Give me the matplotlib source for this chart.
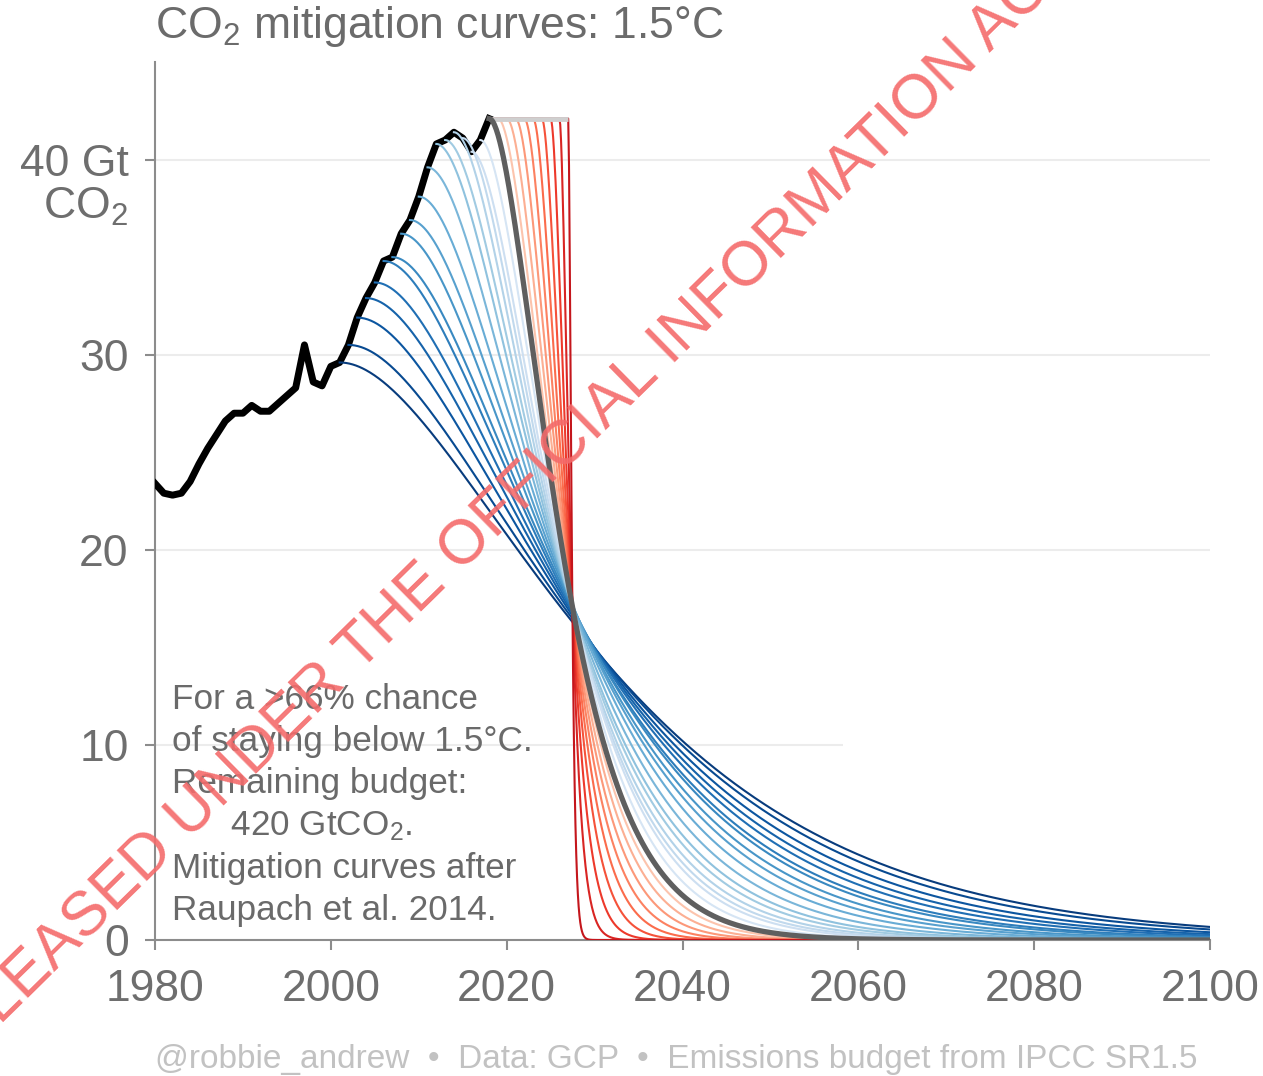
import numpy as np
import matplotlib
matplotlib.use('Agg')
import matplotlib.pyplot as plt
from matplotlib.patches import Rectangle

plt.rcParams['font.family'] = ['Liberation Sans', 'DejaVu Sans']
plt.rcParams['mathtext.fontset'] = 'custom'
plt.rcParams['mathtext.rm'] = 'Liberation Sans'
plt.rcParams['mathtext.it'] = 'Liberation Sans'

# Historical total CO2 emissions, Gt CO2 per year (GCP)
hist_years = list(range(1980, 2019))
hist_emissions = [23.4, 22.9, 22.8, 22.9, 23.5, 24.4, 25.2, 25.9, 26.6, 27.0,
                  27.0, 27.4, 27.1, 27.1, 27.5, 27.9, 28.3, 30.5, 28.6, 28.4,
                  29.4, 29.6, 30.5, 31.9, 32.9, 33.7, 34.8, 35.0, 36.2, 36.9,
                  38.1, 39.6, 40.8, 41.0, 41.4, 41.1, 40.4, 41.0, 42.1]

# Remaining budget from the start of 2018 (IPCC SR1.5, >66% for 1.5C)
budget_2018 = 420.0

# Start years of mitigation: "what if we had started in..." and delayed starts
early_starts = list(range(2001, 2018))
delayed_starts = list(range(2019, 2028))
end_year = 2100

footer = "@robbie_andrew  \u2022  Data: GCP  \u2022  Emissions budget from IPCC SR1.5"
note_lines = ["For a >66% chance", "of staying below 1.5\u00b0C.", "Remaining budget:",
              "      420 GtCO$_2$.", "Mitigation curves after", "Raupach et al. 2014."]


def mitigation_curve(f0, budget, t0, t1=end_year, n=800):
    # Raupach et al. (2014) curve with zero initial growth:
    # f(t) = f0 (1 + m t) exp(-m t); annual sum ~ 2 f0 / m + f0 / 2 = budget
    m = 2.0 * f0 / (budget - f0 / 2.0)
    t = np.linspace(t0, t1, n)
    dt = t - t0
    return t, f0 * (1 + m * dt) * np.exp(-m * dt)


hist = dict(zip(hist_years, hist_emissions))
f_now = hist[2018]

fig = plt.figure(figsize=(12.63, 10.76), dpi=100)
ax = fig.add_axes([155 / 1263, 136 / 1076, 1055 / 1263, 878 / 1076])

# blue: mitigation had it started earlier
blues = plt.get_cmap('Blues')
for i, s in enumerate(early_starts):
    spent = sum(hist[y] for y in range(s, 2018))
    t, f = mitigation_curve(hist[s], budget_2018 + spent, s)
    frac = i / (len(early_starts) - 1)
    ax.plot(t, f, color=blues(0.95 - 0.78 * frac), lw=1.5, zorder=4 + i * 0.01)

# red: delayed mitigation, emissions held flat until the start year
reds = plt.get_cmap('Reds')
for i, s in enumerate(delayed_starts):
    left = budget_2018 - f_now * (s - 2018)
    t, f = mitigation_curve(f_now, left, s)
    t = np.concatenate([[2018], t])
    f = np.concatenate([[f_now], f])
    frac = i / (len(delayed_starts) - 1)
    ax.plot(t, f, color=reds(0.22 + 0.55 * frac), lw=1.5, zorder=5)

# flat part of the delayed curves
ax.plot([2018, delayed_starts[-1]], [f_now, f_now], color='#cfcfcf', lw=3.5,
        zorder=5.5, solid_capstyle='butt')

# start now
t, f = mitigation_curve(f_now, budget_2018, 2018)
ax.plot(t, f, color='#5f5f5f', lw=3.8, zorder=6)

ax.plot(hist_years, hist_emissions, color='black', lw=5, zorder=3,
        solid_joinstyle='round')

ax.set_xlim(1980, 2100)
ax.set_ylim(0, 45)
ax.set_xticks(range(1980, 2101, 20))
ax.set_yticks([0, 10, 20, 30, 40])
ax.set_yticklabels(['0', '10', '20', '30', '40 Gt'])
ax.grid(axis='y', color='#ececec', lw=1.5)
ax.set_axisbelow(True)
ax.add_patch(Rectangle((843, 1076 - 815), 372, 197, transform=None,
                       facecolor='white', edgecolor='none', zorder=1))

for side in ['top', 'right']:
    ax.spines[side].set_visible(False)
for side in ['left', 'bottom']:
    ax.spines[side].set_color('#8c8c8c')
    ax.spines[side].set_linewidth(1.5)
ax.tick_params(axis='both', colors='#8c8c8c', length=7, width=1.5,
               labelsize=32, labelcolor='#6e6e6e')
ax.tick_params(axis='y', pad=12)
ax.tick_params(axis='x', pad=14)

ax.annotate('CO$_2$', xy=(0, 40), xycoords=('axes fraction', 'data'),
            xytext=(-27, -47), textcoords='offset pixels', ha='right', va='center',
            fontsize=32, color='#6e6e6e')

fig.text(155 / 1263, 1 - 4 / 1076, 'CO$_2$ mitigation curves: 1.5\u00b0C',
         ha='left', va='top', fontsize=32, color='#6b6b6b')

for k, line in enumerate(note_lines):
    fig.text(172 / 1263, 1 - (709 + 42.2 * k) / 1076, line, ha='left',
             va='baseline', fontsize=25.3, color='#6a6a6a')

fig.text(676 / 1263, 1 - 1068 / 1076, footer, ha='center', va='baseline',
         fontsize=24, color='#c2c2c2')

fig.text(497 / 1263, 1 - 514 / 1076, 'RELEASED UNDER THE OFFICIAL INFORMATION ACT',
         ha='center', va='center', rotation=44.5, rotation_mode='anchor',
         fontsize=45, color='#f46a6a', alpha=0.9, zorder=20)

fig.savefig('out.png', dpi=100)
